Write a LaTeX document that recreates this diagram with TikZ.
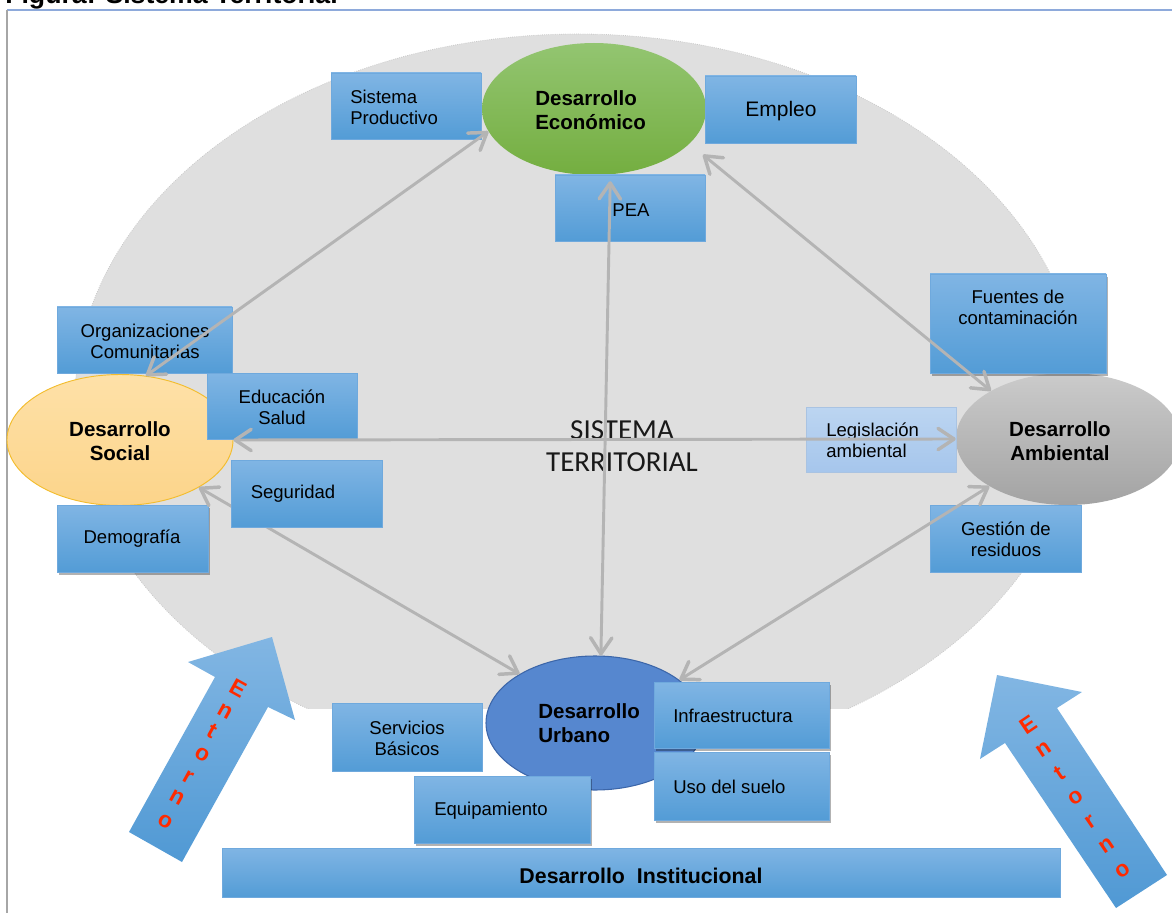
\documentclass[tikz,border=0pt]{standalone}
\usepackage{fontspec}
\setmainfont{Liberation Sans}
\newfontfamily\carl{Carlito}
\usetikzlibrary{arrows.meta,shapes.geometric,shapes.misc,shadows}
\definecolor{boxtop}{HTML}{80B5E4}
\definecolor{boxbot}{HTML}{539CD6}
\definecolor{boxedge}{HTML}{6FA9DD}
\definecolor{legtop}{HTML}{BCD5F1}
\definecolor{legbot}{HTML}{A6C6EC}
\definecolor{legedge}{HTML}{A9C3E2}
\definecolor{conncol}{HTML}{B4B4B4}
\definecolor{bgcol}{HTML}{DFDFDF}
\definecolor{bgedge}{HTML}{CACACA}
\definecolor{ecotop}{HTML}{93C571}
\definecolor{ecobot}{HTML}{74AE40}
\definecolor{soctop}{HTML}{FEE1A8}
\definecolor{socbot}{HTML}{FCD48A}
\definecolor{socedge}{HTML}{F3BD2E}
\definecolor{ambtop}{HTML}{CBCBCB}
\definecolor{ambbot}{HTML}{A3A3A3}
\definecolor{urbfill}{HTML}{5687CF}
\definecolor{urbedge}{HTML}{3C66A9}
\definecolor{enttop}{HTML}{82B6E3}
\definecolor{entbot}{HTML}{5099D4}
\definecolor{entred}{HTML}{FF2A00}
\definecolor{frameblue}{HTML}{8EAADB}
\definecolor{framegray}{HTML}{A6A6A6}
\def\pxu{0.75pt}
\tikzset{
  bx/.style n args={2}{rectangle, inner sep=0pt, minimum width={#1*\pxu}, minimum height={#2*\pxu},
    top color=boxtop, bottom color=boxbot, draw=boxedge, line width=0.5pt},
  shd/.style={drop shadow={shadow xshift=1.5pt, shadow yshift=-2.5pt, opacity=0.3, fill=black}},
  lgx/.style n args={2}{rectangle, inner sep=0pt, minimum width={#1*\pxu}, minimum height={#2*\pxu},
    top color=legtop, bottom color=legbot, draw=legedge, line width=0.7pt},
  ell/.style n args={2}{ellipse, inner sep=0pt, minimum width={#1*\pxu}, minimum height={#2*\pxu}},
  btxt/.style={inner sep=0pt, font=\fontsize{13.9pt}{15.75pt}\selectfont},
  etxt/.style={inner sep=0pt, font=\bfseries\fontsize{15.4pt}{18pt}\selectfont},
  entl/.style={inner sep=0pt, text=entred, font=\bfseries\fontsize{17pt}{20pt}\selectfont},
  tipb/.tip={Straight Barb[length=12pt, width=16pt, line width=2.6pt, round]},
  conn/.style={draw=conncol, line width=2.2pt, line cap=round, tipb-tipb},
}
\begin{document}
\begin{tikzpicture}[x=0.75pt, y=-0.75pt]
\useasboundingbox (0,0) rectangle (1172,913);
% frame and title
\node[anchor=base west, inner sep=0pt, font=\bfseries\fontsize{20pt}{24pt}\selectfont] (title) at (5,4) {Figura: Sistema Territorial};
\draw[frameblue, line width=1.1pt] (7,10) -- (1172,10);
\draw[framegray, line width=1.4pt] (7,10) -- (7,913);
% background ellipse
\begin{scope}
\clip (0,0) rectangle (1172,708);
\filldraw[fill=bgcol, draw=bgedge, densely dotted, line width=0.6pt] (578,400) ellipse [x radius=503, y radius=366];
\end{scope}
\node[inner sep=0pt, align=center, text=black!90, font=\carl\fontsize{21.75pt}{24pt}\selectfont] (sisT) at (622,446) {SISTEMA\\TERRITORIAL};
% Entorno arrows
\shade[top color=enttop, bottom color=entbot] (129,832) -- (215,677) -- (188,662) -- (272,637) -- (295,720) -- (268,707) -- (182,862) -- cycle;
\shade[top color=enttop, bottom color=entbot] (1116,908) -- (1005,743) -- (980,759) -- (997,675) -- (1082,692) -- (1057,708) -- (1167,875) -- cycle;
\node[entl, rotate=-29] (eL1) at (238,688) {E};
\node[entl, rotate=-29] (eL2) at (225,712) {n};
\node[entl, rotate=-29] (eL3) at (212,731) {t};
\node[entl, rotate=-29] (eL4) at (202,755) {o};
\node[entl, rotate=-29] (eL5) at (188,777) {r};
\node[entl, rotate=-29] (eL6) at (177,798) {n};
\node[entl, rotate=-29] (eL7) at (165,822) {o};
\node[entl, rotate=34] (eR1) at (1028,725) {E};
\node[entl, rotate=34] (eR2) at (1043.8,749.2) {n};
\node[entl, rotate=34] (eR3) at (1059.6,773.4) {t};
\node[entl, rotate=34] (eR4) at (1075.4,797.6) {o};
\node[entl, rotate=34] (eR5) at (1091.2,821.8) {r};
\node[entl, rotate=34] (eR6) at (1107,846) {n};
\node[entl, rotate=34] (eR7) at (1122.8,870.2) {o};
% ellipses
\node[ell={224}{132}, top color=ecotop, bottom color=ecobot] (eco) at (594,109) {};
\node[ell={226}{131}, top color=soctop, bottom color=socbot, draw=socedge, line width=0.7pt] (soc) at (120,440) {};
\node[ell={224}{132}, top color=ambtop, bottom color=ambbot] (amb) at (1068,439) {};
\node[ell={218}{134}, fill=urbfill, draw=urbedge, line width=0.8pt] (urb) at (595,723) {};
\node[etxt, anchor=west, align=left] (ecoT) at (535,110) {Desarrollo\\Económico};
\node[etxt, align=center] (socT) at (120,441) {Desarrollo\\Social};
\node[etxt, align=center] (ambT) at (1060,441) {Desarrollo\\Ambiental};
\node[etxt, anchor=west, align=left] (urbT) at (538,723) {Desarrollo\\Urbano};
% boxes
\node[bx={150}{66}] (sist) at (406,106) {};
\node[btxt, anchor=west, align=left] (sistT) at (350,107) {Sistema\\Productivo};
\node[bx={151}{67}] (empleo) at (780.5,109.5) {};
\node[btxt, font=\fontsize{15.75pt}{18pt}\selectfont] (empleoT) at (781,111) {Empleo};
\node[bx={150}{66}] (pea) at (630,208) {};
\node[btxt] (peaT) at (631,210) {PEA};
\node[bx={175}{66}] (org) at (144.5,340) {};
\node[btxt, align=center] (orgT) at (145,341) {Organizaciones\\Comunitarias};
\node[bx={150}{66}] (edu) at (282,406) {};
\node[btxt, align=center] (eduT) at (282,407) {Educación\\Salud};
\node[bx={151}{67}, shd] (demo) at (132.5,538.5) {};
\node[btxt] (demoT) at (132,539) {Demografía};
\node[bx={176}{99}, shd] (fuentes) at (1018,323.5) {};
\node[btxt, align=center] (fuentesT) at (1018,307) {Fuentes de\\contaminación};
\node[lgx={150}{65}] (leg) at (881,439.5) {};
\node[btxt, anchor=west, align=left] (legT) at (826,440) {Legislación\\ambiental};
\node[bx={151}{67}] (gest) at (1005.5,538.5) {};
\node[btxt, align=center] (gestT) at (1006,539) {Gestión de\\residuos};
\node[bx={150}{68}] (serv) at (407,737) {};
\node[btxt, align=center] (servT) at (407,738) {Servicios\\Básicos};
\node[bx={175}{66}, shd] (infra) at (741.5,715) {};
\node[btxt, anchor=west] (infraT) at (673,716) {Infraestructura};
\node[bx={175}{68}, shd] (uso) at (741.5,786) {};
\node[btxt, anchor=west] (usoT) at (673,787) {Uso del suelo};
\node[bx={176}{67}, shd] (equip) at (502,809.5) {};
\node[btxt, anchor=west] (equipT) at (434,811) {Equipamiento};
\node[chamfered rectangle, chamfered rectangle corners=north east, chamfered rectangle xsep=6pt, chamfered rectangle ysep=6pt,
  inner sep=0pt, minimum width={838*\pxu}, minimum height={49*\pxu}, top color=boxtop, bottom color=boxbot, draw=boxedge, line width=0.5pt] (inst) at (641,872.5) {};
\node[inner sep=0pt, font=\bfseries\fontsize{16pt}{18pt}\selectfont] (instT) at (641,876) {Desarrollo\ \ Institucional};
% connector under Seguridad
\draw[conn] (soc.-31) -- (urb.147);
\node[bx={151}{67}] (seg) at (306.5,493.5) {};
\node[btxt] (segT) at (293,494) {Seguridad};
% other connectors
\draw[conn] (soc.68) -- (eco.192);
\draw[conn] (soc.east) -- (amb.west);
\draw[conn, shorten <=5pt] (eco.-76) -- (urb.85);
\draw[conn, shorten <=13pt] (eco.-20) -- (amb.148);
\draw[conn] (amb.211) -- (urb.27);
\end{tikzpicture}
\end{document}
